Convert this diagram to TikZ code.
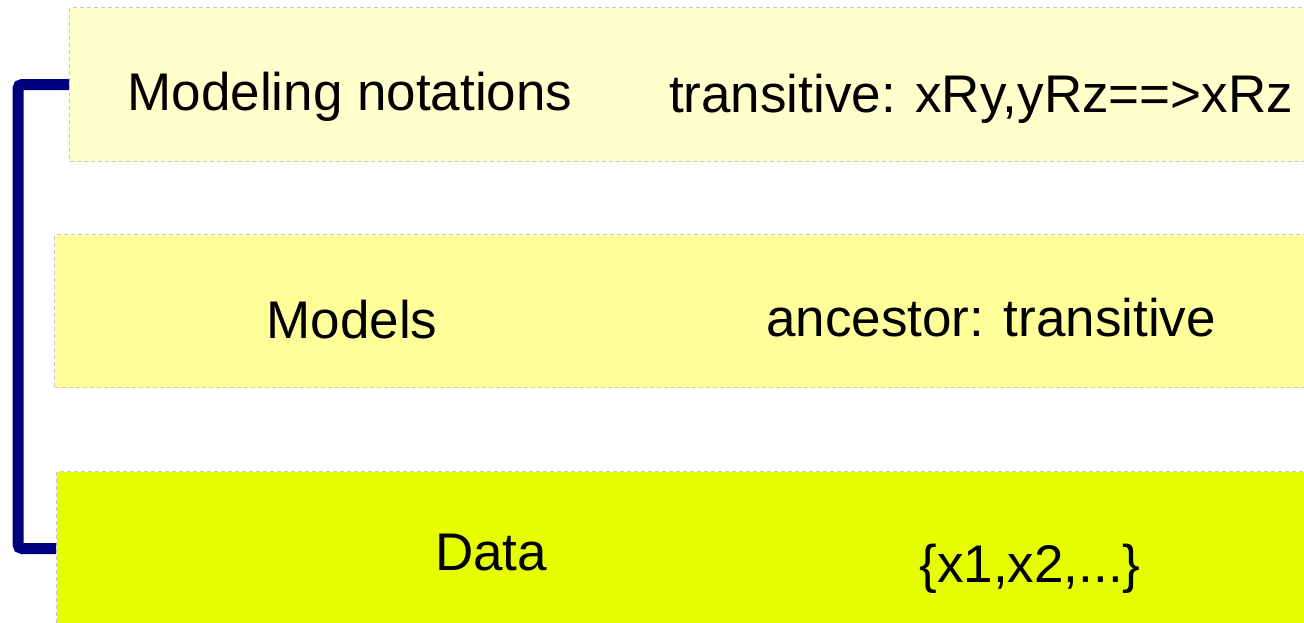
\documentclass[tikz,border=0pt]{standalone}
\usepackage{fontspec}
\setmainfont{Liberation Sans}
\usepackage{tikz}
\usepackage{xcolor}

\definecolor{paleyellow}{HTML}{FFFFCC}
\definecolor{lightyellow}{HTML}{FFFF99}
\definecolor{limeyellow}{HTML}{E6FF00}
\definecolor{bordergray}{HTML}{C8C8C8}
\definecolor{bracketblue}{HTML}{000080}

\begin{document}
\begin{tikzpicture}[
            x = 0.5pt, y = -0.5pt, % one unit per pixel, y grows downwards
            band/.style = {rectangle, draw=bordergray, line width=0.5pt,
                           dash pattern=on 2pt off 1.5pt, inner sep=0pt,
                           anchor=north west, minimum width=630pt},
            txt/.style = {anchor=base, inner sep=0pt,
                          font=\fontsize{26.5}{32}\selectfont},
            bracket/.style = {draw=bracketblue, line width=5.5pt,
                              rounded corners=2pt}
        ]
\useasboundingbox (0,0) rectangle (1304,622);

% the three layers
\node[band, fill=paleyellow, minimum height=77pt] (notations) at (69,7) {};
\node[band, fill=lightyellow, minimum height=76.5pt] (models) at (54,234) {};
\node[band, fill=limeyellow, minimum height=77pt] (data) at (56,471) {};

% labels
\node[txt] (notationsname) at (350,110) {Modeling notations};
\node[txt] (notationsex) at (981,112) {transitive: xRy,yRz==>xRz};
\node[txt] (modelsname) at (352,338) {Models};
\node[txt] (modelsex) at (991,336) {ancestor: transitive};
\node[txt] (dataname) at (491,570) {Data};
\node[txt] (dataex) at (1030,582) {\{x1,x2,...\}};

% bracket joining top and bottom layer
\coordinate (spine) at (18,300);
\draw[bracket] (notations.west) -| (spine |- data.west) -- (data.west);
\end{tikzpicture}
\end{document}
